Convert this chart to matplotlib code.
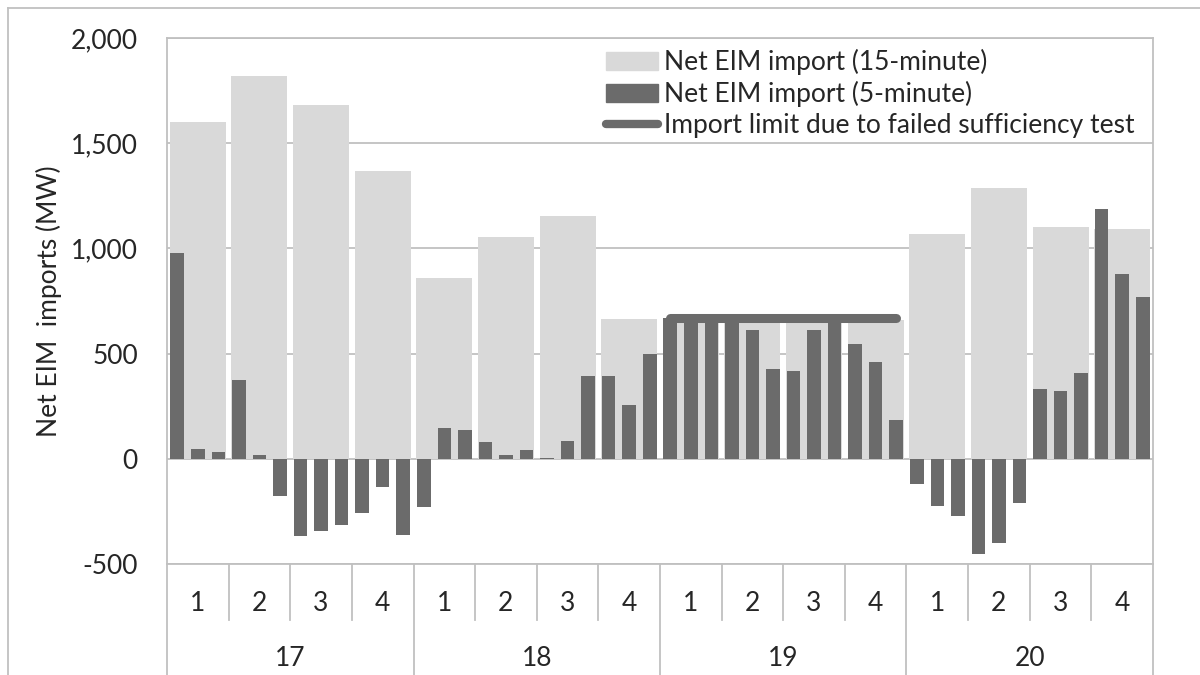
import matplotlib.pyplot as plt
import numpy as np
from matplotlib.lines import Line2D
from matplotlib.patches import Patch

plt.rcParams["font.family"] = ["Lato", "DejaVu Sans"]

# data
hours = ["17", "18", "19", "20"]
quarters = ["1", "2", "3", "4"]
imp_15min = [1600, 1818, 1683, 1367, 857, 1052, 1156, 665,
             660, 660, 660, 660, 1070, 1289, 1102, 1094]
imp_5min = [980, 48, 31, 376, 20, -179, -367, -343, -314, -256, -132, -362,
            -227, 148, 136, 81, 20, 44, 3, 83, 393, 393, 257, 500,
            670, 670, 670, 670, 611, 427, 416, 611, 670, 546, 459, 184,
            -118, -222, -270, -451, -401, -210, 333, 320, 406, 1186, 880, 768]
limit_start = 24  # first 5-minute interval of hour 19
import_limit = [670, 670, 670, 670, 670, 670, 670, 670, 670, 670, 670, 670]

light = "#d9d9d9"
dark = "#6b6b6b"
grid = "#c0c0c0"
txt = "#262626"

fig = plt.figure(figsize=(12, 6.75), dpi=100)
ax = fig.add_axes([167 / 1200, 1 - 564 / 675, 986 / 1200, 526 / 675])

n15 = len(imp_15min)
x15 = np.arange(n15) * 3 + 1.5
x5 = np.arange(len(imp_5min)) + 0.5
ax.bar(x15, imp_15min, width=2.73, color=light, zorder=2)
ax.bar(x5, imp_5min, width=0.66, color=dark, zorder=3)
xl = np.arange(limit_start, limit_start + len(import_limit)) + 0.5
ax.plot(xl, import_limit, color=dark, lw=6.5, solid_capstyle="round", zorder=4)

ax.set_xlim(0, len(imp_5min))
ax.set_ylim(-500, 2000)
ax.set_yticks([-500, 0, 500, 1000, 1500, 2000])
ax.set_yticklabels(["-500", "0", "500", "1,000", "1,500", "2,000"])
ax.yaxis.grid(True, color=grid, lw=1.3, zorder=1)
ax.tick_params(axis="y", length=0, pad=21, labelsize=19, labelcolor=txt)
ax.set_xticks([])
for s in ax.spines.values():
    s.set_color(grid)
    s.set_linewidth(1.3)
ax.set_ylabel("Net EIM  imports (MW)", fontsize=19, color=txt)
ax.yaxis.set_label_coords(-0.1065, 0.5)

# two-level category axis
trans = ax.get_xaxis_transform()
for i in range(n15):
    ax.text(x15[i], -0.076, quarters[i % 4], transform=trans, ha="center",
            va="center", fontsize=19, color=txt)
    if i % 4:
        ax.plot([i * 3, i * 3], [0, -0.107], transform=trans, color=grid,
                lw=1.3, clip_on=False)
for h in range(len(hours)):
    ax.text(h * 12 + 6, -0.18, hours[h], transform=trans, ha="center",
            va="center", fontsize=19, color=txt)
for h in range(len(hours) + 1):
    ax.plot([h * 12, h * 12], [0, -0.25], transform=trans, color=grid,
            lw=1.3, clip_on=False)

handles = [
    Patch(color=light, label="Net EIM import (15-minute)"),
    Patch(color=dark, label="Net EIM import (5-minute)"),
    Line2D([], [], color=dark, lw=6, solid_capstyle="round",
           label="Import limit due to failed sufficiency test"),
]
leg = ax.legend(handles=handles, loc="upper left",
                bbox_to_anchor=(0.445, 0.979), frameon=False, fontsize=19,
                handlelength=1.97, handleheight=0.7, handletextpad=0.23,
                labelspacing=0.23, borderpad=0, borderaxespad=0)
for t in leg.get_texts():
    t.set_color(txt)

# outer chart-area border (top and left visible)
fig.add_artist(Line2D([8 / 1200, 8 / 1200], [0, 1 - 8 / 675], color=grid,
                      lw=1.3, transform=fig.transFigure))
fig.add_artist(Line2D([8 / 1200, 1], [1 - 8 / 675, 1 - 8 / 675], color=grid,
                      lw=1.3, transform=fig.transFigure))

fig.savefig("out.png", dpi=100)
